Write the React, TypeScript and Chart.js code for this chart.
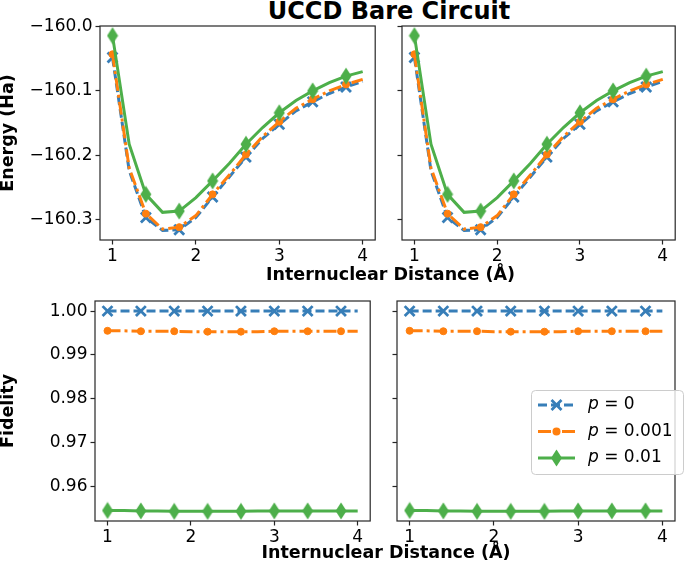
import { useEffect, useRef } from "react";
import { Chart, registerables } from "chart.js";

Chart.register(...registerables);

// Internuclear distance (Å), sampled every 0.2
const distances = [1.0, 1.2, 1.4, 1.6, 1.8, 2.0, 2.2, 2.4, 2.6, 2.8, 3.0, 3.2, 3.4, 3.6, 3.8, 4.0];

// Energy (Ha)
const energyP0 = [
  -160.048, -160.224, -160.297, -160.317, -160.316, -160.297, -160.265, -160.234,
  -160.203, -160.174, -160.152, -160.131, -160.117, -160.104, -160.094, -160.085,
];
const energyP001 = [
  -160.043, -160.220, -160.291, -160.315, -160.312, -160.294, -160.261, -160.231,
  -160.199, -160.171, -160.148, -160.127, -160.113, -160.100, -160.090, -160.082,
];
const energyP01 = [
  -160.014, -160.183, -160.261, -160.289, -160.287, -160.266, -160.240, -160.213,
  -160.183, -160.157, -160.134, -160.115, -160.100, -160.087, -160.077, -160.070,
];

// Fidelity
const fidelityP0 = [1.0, 1.0, 1.0, 1.0, 1.0, 1.0, 1.0, 1.0, 1.0, 1.0, 1.0, 1.0, 1.0, 1.0, 1.0, 1.0];
const fidelityP001 = [
  0.9955, 0.9955, 0.9954, 0.9954, 0.9954, 0.9953, 0.9953, 0.9953,
  0.9953, 0.9953, 0.9954, 0.9954, 0.9954, 0.9954, 0.9954, 0.9954,
];
const fidelityP01 = [
  0.9545, 0.9545, 0.9544, 0.9544, 0.9543, 0.9543, 0.9543, 0.9543,
  0.9543, 0.9544, 0.9544, 0.9544, 0.9544, 0.9544, 0.9544, 0.9544,
];

const distanceTicks = [1, 2, 3, 4];
const energyTicks = [-160.3, -160.2, -160.1, -160.0];
const fidelityTicks = [0.96, 0.97, 0.98, 0.99, 1.0];
const noiseLabels = ["0", "0.001", "0.01"];

const BLUE = "#377eb8";
const ORANGE = "#ff7f0e";
const GREEN = "#4daf4a";
const SPINE = "#262626";
const FONT = "'DejaVu Sans', sans-serif";

const BLUE_DASH = [9, 4];
const ORANGE_DASH = [13, 4, 3, 4];

function makeDiamond(color: string) {
  const c = document.createElement("canvas");
  c.width = 12;
  c.height = 18;
  const g = c.getContext("2d")!;
  g.fillStyle = color;
  g.beginPath();
  g.moveTo(6, 0.5);
  g.lineTo(11.5, 9);
  g.lineTo(6, 17.5);
  g.lineTo(0.5, 9);
  g.closePath();
  g.fill();
  return c;
}

// markers on every other sample (markevery=2)
const every2 = (r: number) => (ctx: any) => (ctx.dataIndex % 2 === 0 ? r : 0);

function buildDatasets(p0: number[], p001: number[], p01: number[]) {
  const diamond = makeDiamond(GREEN);
  return [
    {
      label: "p = " + noiseLabels[0],
      data: distances.map((x, i) => ({ x, y: p0[i] })),
      borderColor: BLUE,
      backgroundColor: BLUE,
      borderWidth: 3,
      borderDash: BLUE_DASH,
      pointStyle: "crossRot",
      pointRadius: every2(7),
      pointBorderWidth: 2.8,
      pointBorderColor: BLUE,
      tension: 0,
      order: 3,
    },
    {
      label: "p = " + noiseLabels[1],
      data: distances.map((x, i) => ({ x, y: p001[i] })),
      borderColor: ORANGE,
      backgroundColor: ORANGE,
      borderWidth: 3,
      borderDash: ORANGE_DASH,
      pointStyle: "circle",
      pointRadius: every2(3.5),
      pointBorderWidth: 1,
      pointBorderColor: ORANGE,
      pointBackgroundColor: ORANGE,
      tension: 0,
      order: 2,
    },
    {
      label: "p = " + noiseLabels[2],
      data: distances.map((x, i) => ({ x, y: p01[i] })),
      borderColor: GREEN,
      backgroundColor: GREEN,
      borderWidth: 3,
      pointStyle: diamond,
      pointRadius: every2(6),
      tension: 0,
      order: 1,
    },
  ];
}

const framePlugin = {
  id: "frame",
  afterDatasetsDraw(chart: any) {
    const { ctx, chartArea: a } = chart;
    ctx.save();
    ctx.strokeStyle = SPINE;
    ctx.lineWidth = 1.2;
    ctx.strokeRect(a.left, a.top, a.right - a.left, a.bottom - a.top);
    ctx.restore();
  },
};

function drawMarker(ctx: CanvasRenderingContext2D, kind: string, x: number, y: number) {
  ctx.save();
  if (kind === "x") {
    ctx.strokeStyle = BLUE;
    ctx.lineWidth = 2.8;
    const d = 5;
    ctx.beginPath();
    ctx.moveTo(x - d, y - d);
    ctx.lineTo(x + d, y + d);
    ctx.moveTo(x - d, y + d);
    ctx.lineTo(x + d, y - d);
    ctx.stroke();
  } else if (kind === "o") {
    ctx.fillStyle = ORANGE;
    ctx.beginPath();
    ctx.arc(x, y, 4, 0, Math.PI * 2);
    ctx.fill();
  } else {
    ctx.fillStyle = GREEN;
    ctx.beginPath();
    ctx.moveTo(x, y - 8.5);
    ctx.lineTo(x + 5.5, y);
    ctx.lineTo(x, y + 8.5);
    ctx.lineTo(x - 5.5, y);
    ctx.closePath();
    ctx.fill();
  }
  ctx.restore();
}

// legend drawn in page coordinates, shifted by the canvas origin
function makeLegendPlugin(ox: number, oy: number) {
  const rows = [
    { color: BLUE, dash: BLUE_DASH, marker: "x", text: noiseLabels[0], y: 405 },
    { color: ORANGE, dash: ORANGE_DASH, marker: "o", text: noiseLabels[1], y: 431.5 },
    { color: GREEN, dash: [] as number[], marker: "d", text: noiseLabels[2], y: 458 },
  ];
  return {
    id: "pLegend",
    afterDraw(chart: any) {
      const ctx: CanvasRenderingContext2D = chart.ctx;
      ctx.save();
      const bx = 531.5 - ox, by = 390.5 - oy, bw = 152, bh = 84;
      ctx.beginPath();
      ctx.roundRect(bx, by, bw, bh, 4);
      ctx.fillStyle = "rgba(255,255,255,0.8)";
      ctx.fill();
      ctx.strokeStyle = "#cccccc";
      ctx.lineWidth = 1;
      ctx.stroke();
      rows.forEach((r) => {
        const cy = r.y - oy;
        ctx.strokeStyle = r.color;
        ctx.lineWidth = 3;
        ctx.setLineDash(r.dash);
        ctx.beginPath();
        ctx.moveTo(538 - ox, cy);
        ctx.lineTo(575 - ox, cy);
        ctx.stroke();
        ctx.setLineDash([]);
        drawMarker(ctx, r.marker, 556.5 - ox, cy);
        ctx.fillStyle = "#000";
        ctx.textBaseline = "middle";
        ctx.textAlign = "left";
        ctx.font = "italic 17px " + FONT;
        ctx.fillText("p", 588 - ox, cy);
        const pw = ctx.measureText("p").width;
        ctx.font = "17px " + FONT;
        ctx.fillText(" = " + r.text, 588 - ox + pw, cy);
      });
      ctx.restore();
    },
  };
}

interface Box { x: number; y: number; w: number; h: number }
interface Area { l: number; t: number; r: number; b: number }

interface PanelProps {
  box: Box;
  area: Area;
  kind: "energy" | "fidelity";
  showYLabels: boolean;
  yTitle?: string;
  legend?: boolean;
}

function Panel({ box, area, kind, showYLabels, yTitle, legend }: PanelProps) {
  const canvasRef = useRef<HTMLCanvasElement>(null);
  const chartRef = useRef<Chart | null>(null);

  useEffect(() => {
    if (!canvasRef.current) return;
    if (chartRef.current) chartRef.current.destroy();
    const ctx = canvasRef.current.getContext("2d");
    if (!ctx) return;

    const isEnergy = kind === "energy";
    const datasets = isEnergy
      ? buildDatasets(energyP0, energyP001, energyP01)
      : buildDatasets(fidelityP0, fidelityP001, fidelityP01);
    const yTicks = isEnergy ? energyTicks : fidelityTicks;

    const yW = area.l - box.x;
    const xH = box.y + box.h - area.b;
    const padTop = area.t - box.y;
    const padRight = box.x + box.w - area.r;

    const tickGrid = {
      display: true,
      drawOnChartArea: false,
      drawTicks: true,
      tickLength: 4.5,
      tickWidth: 1.2,
      tickColor: SPINE,
    };

    const config: any = {
      type: "line",
      data: { datasets },
      options: {
        animation: false,
        responsive: false,
        events: [],
        layout: { padding: { left: 0, top: padTop, right: padRight, bottom: 0 } },
        plugins: { legend: { display: false }, tooltip: { enabled: false } },
        scales: {
          x: {
            type: "linear",
            min: 0.85,
            max: 4.15,
            afterFit: (s: any) => { s.height = xH; },
            afterBuildTicks: (s: any) => { s.ticks = distanceTicks.map((value) => ({ value })); },
            grid: tickGrid,
            border: { display: false },
            ticks: {
              color: "#000",
              font: { family: FONT, size: 17 },
              padding: 2,
              maxRotation: 0,
              autoSkip: false,
              callback: (v: any) => String(v),
            },
          },
          y: {
            type: "linear",
            min: isEnergy ? -160.332 : 0.9521,
            max: isEnergy ? -159.999 : 1.0023,
            afterFit: (s: any) => { s.width = yW; },
            afterBuildTicks: (s: any) => { s.ticks = yTicks.map((value) => ({ value })); },
            grid: tickGrid,
            border: { display: false },
            ticks: {
              display: showYLabels,
              color: "#000",
              font: { family: FONT, size: 17 },
              padding: 3,
              callback: (v: any) =>
                isEnergy ? Number(v).toFixed(1).replace("-", "\u2212") : Number(v).toFixed(2),
            },
            title: {
              display: !!yTitle,
              text: yTitle || "",
              color: "#000",
              font: { family: FONT, size: 17.5, weight: "bold", lineHeight: 1 },
              padding: 0,
            },
          },
        },
      },
      plugins: legend ? [framePlugin, makeLegendPlugin(box.x, box.y)] : [framePlugin],
    };

    chartRef.current = new Chart(ctx, config);

    return () => {
      if (chartRef.current) {
        chartRef.current.destroy();
        chartRef.current = null;
      }
    };
  }, []);

  return (
    <div style={{ position: "absolute", left: box.x, top: box.y, width: box.w, height: box.h }}>
      <canvas ref={canvasRef} width={box.w} height={box.h} style={{ width: box.w, height: box.h }} />
    </div>
  );
}

const textStyle = (center: number, top: number, size: number): React.CSSProperties => ({
  position: "absolute",
  left: center - 200,
  width: 400,
  top,
  textAlign: "center",
  fontFamily: FONT,
  fontWeight: "bold",
  fontSize: size,
  lineHeight: `${size}px`,
  color: "#000",
  whiteSpace: "nowrap",
});

export default function App() {
  return (
    <div
      style={{
        position: "absolute",
        left: 0,
        top: 0,
        width: 685,
        height: 564,
        background: "#fff",
        overflow: "hidden",
      }}
    >
      <div style={textStyle(389, -1, 24)}>UCCD Bare Circuit</div>
      <Panel
        box={{ x: 0, y: 0, w: 385, h: 266 }}
        area={{ l: 100, t: 26, r: 379, b: 240 }}
        kind="energy"
        showYLabels
        yTitle="Energy (Ha)"
      />
      <Panel
        box={{ x: 380, y: 0, w: 305, h: 266 }}
        area={{ l: 402, t: 26, r: 681, b: 240 }}
        kind="energy"
        showYLabels={false}
      />
      <div style={textStyle(390.5, 265.5, 17.5)}>Internuclear Distance (Å)</div>
      <Panel
        box={{ x: 0, y: 285, w: 380, h: 262 }}
        area={{ l: 95, t: 301, r: 375, b: 521 }}
        kind="fidelity"
        showYLabels
        yTitle="Fidelity"
      />
      <Panel
        box={{ x: 380, y: 285, w: 305, h: 262 }}
        area={{ l: 397, t: 301, r: 675, b: 521 }}
        kind="fidelity"
        showYLabels={false}
        legend
      />
      <div style={textStyle(386, 544, 17.5)}>Internuclear Distance (Å)</div>
    </div>
  );
}
